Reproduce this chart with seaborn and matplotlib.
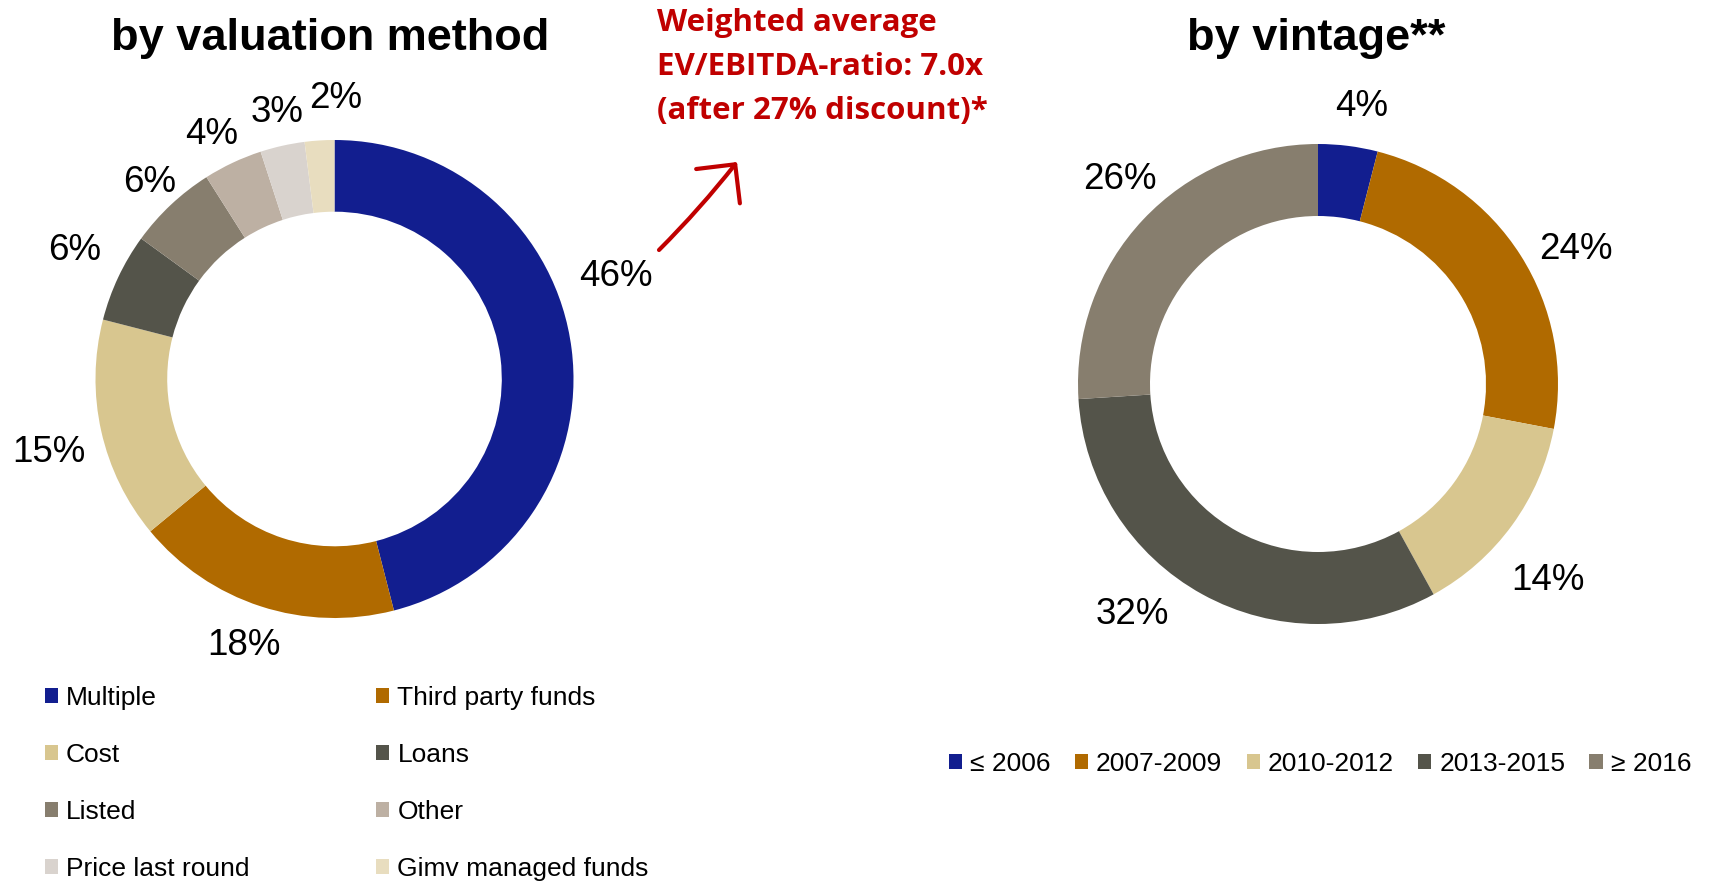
import numpy as np
import matplotlib
matplotlib.use("Agg")
import matplotlib.pyplot as plt
import seaborn as sns

# Portfolio breakdown by valuation method (shares in %)
method_labels = ["Multiple", "Third party funds", "Cost", "Loans", "Listed",
                 "Other", "Price last round", "Gimv managed funds"]
method_shares = [46, 18, 15, 6, 6, 4, 3, 2]

# Portfolio breakdown by vintage (shares in %)
vintage_labels = ["≤ 2006", "2007-2009", "2010-2012", "2013-2015", "≥ 2016"]
vintage_shares = [4, 24, 14, 32, 26]

palette = ["#121E8F", "#B06A00", "#D8C68F", "#54544A", "#877E6E",
           "#BDB0A3", "#D9D3CE", "#E8DDBF"]

sns.set_theme(style="white")
plt.rcParams["font.family"] = ["Liberation Sans", "DejaVu Sans"]
plt.rcParams["text.color"] = "black"
plt.rcParams["legend.labelcolor"] = "black"

W, H = 1714, 881
fig = plt.figure(figsize=(W / 100, H / 100), dpi=100)
fig.patch.set_facecolor("white")

SPAN = 1.3


def donut_axes(cx, cy, r):
    half = r * SPAN
    return fig.add_axes([(cx - half) / W, (H - cy - half) / H, 2 * half / W, 2 * half / H])


def donut(ax, values, colors, nudges=None):
    """Ring chart; each label sits near its wedge's mid angle (angle offset, distance)."""
    nudges = nudges or {}
    wedges, texts = ax.pie(
        values, colors=colors, startangle=90, counterclock=False,
        labels=[f"{v}%" for v in values], labeldistance=1.2,
        wedgeprops=dict(width=0.3, linewidth=0),
        textprops=dict(fontsize=26.5, color="black"))
    total = float(sum(values))
    start = 90.0
    for i, (v, t) in enumerate(zip(values, texts)):
        mid = start - 360.0 * v / total / 2
        start -= 360.0 * v / total
        dang, dist = nudges.get(i, (0.0, 1.2))
        a = np.deg2rad(mid + dang)
        t.set_position((dist * np.cos(a), dist * np.sin(a) - 0.018))
        t.set_ha("center")
        t.set_va("center")
    ax.set_xlim(-SPAN, SPAN)
    ax.set_ylim(-SPAN, SPAN)
    ax.set_aspect("equal")
    ax.axis("off")
    return wedges


ax1 = donut_axes(334.5, 379, 239)
w1 = donut(ax1, method_shares, palette[:len(method_shares)],
           nudges={0: (13.5, 1.26), 1: (-1.0, 1.16), 2: (1.0, 1.23), 3: (-1.8, 1.22),
                   4: (-0.6, 1.14), 5: (1.2, 1.16), 6: (-0.6, 1.16), 7: (-3.9, 1.19)})

ax2 = donut_axes(1318, 384, 240)
w2 = donut(ax2, vintage_shares, palette[:len(vintage_shares)],
           nudges={0: (-1.5, 1.19), 1: (-4.0, 1.22), 2: (-3.9, 1.25),
                   3: (-10.5, 1.22), 4: (-3.2, 1.2)})

# Titles
fig.text(330 / W, 1 - 50 / H, "by valuation method", ha="center", va="baseline",
         fontsize=32.5, fontweight="bold")
fig.text(1316 / W, 1 - 50 / H, "by vintage**", ha="center", va="baseline",
         fontsize=32.5, fontweight="bold")

# Legends (row-wise order for the two-column legend)
order = list(range(0, len(w1), 2)) + list(range(1, len(w1), 2))
fig.legend([w1[i] for i in order], [method_labels[i] for i in order],
           loc="upper left", bbox_to_anchor=(45 / W, 1 - 686 / H), ncol=2,
           frameon=False, fontsize=19, borderpad=0, borderaxespad=0,
           handlelength=0.5, handleheight=0.5, handletextpad=0.3,
           labelspacing=1.25, columnspacing=4.8)

fig.legend(w2, vintage_labels, loc="upper left", bbox_to_anchor=(949 / W, 1 - 752 / H),
           ncol=5, frameon=False, fontsize=19, borderpad=0, borderaxespad=0,
           handlelength=0.5, handleheight=0.5, handletextpad=0.3,
           columnspacing=0.92)

# Red call-out with arrow
red = "#C00000"
callout = ["Weighted average", "EV/EBITDA-ratio: 7.0x", "(after 27% discount)*"]
for k, line in enumerate(callout):
    fig.text(657 / W, 1 - (31 + 44 * k) / H, line, ha="left", va="baseline",
             color=red, fontsize=22.5, fontweight="bold", family=["Open Sans", "DejaVu Sans"])

ov = fig.add_axes([0, 0, 1, 1])
ov.set_xlim(0, W)
ov.set_ylim(H, 0)
ov.axis("off")
ov.annotate("", xy=(737, 162), xytext=(659, 250),
            arrowprops=dict(arrowstyle="->,head_length=1.0,head_width=1.0",
                            mutation_scale=20, color=red, lw=3,
                            connectionstyle="arc3,rad=0.03", shrinkA=0, shrinkB=0))

fig.savefig("out.png", dpi=100, facecolor="white")
